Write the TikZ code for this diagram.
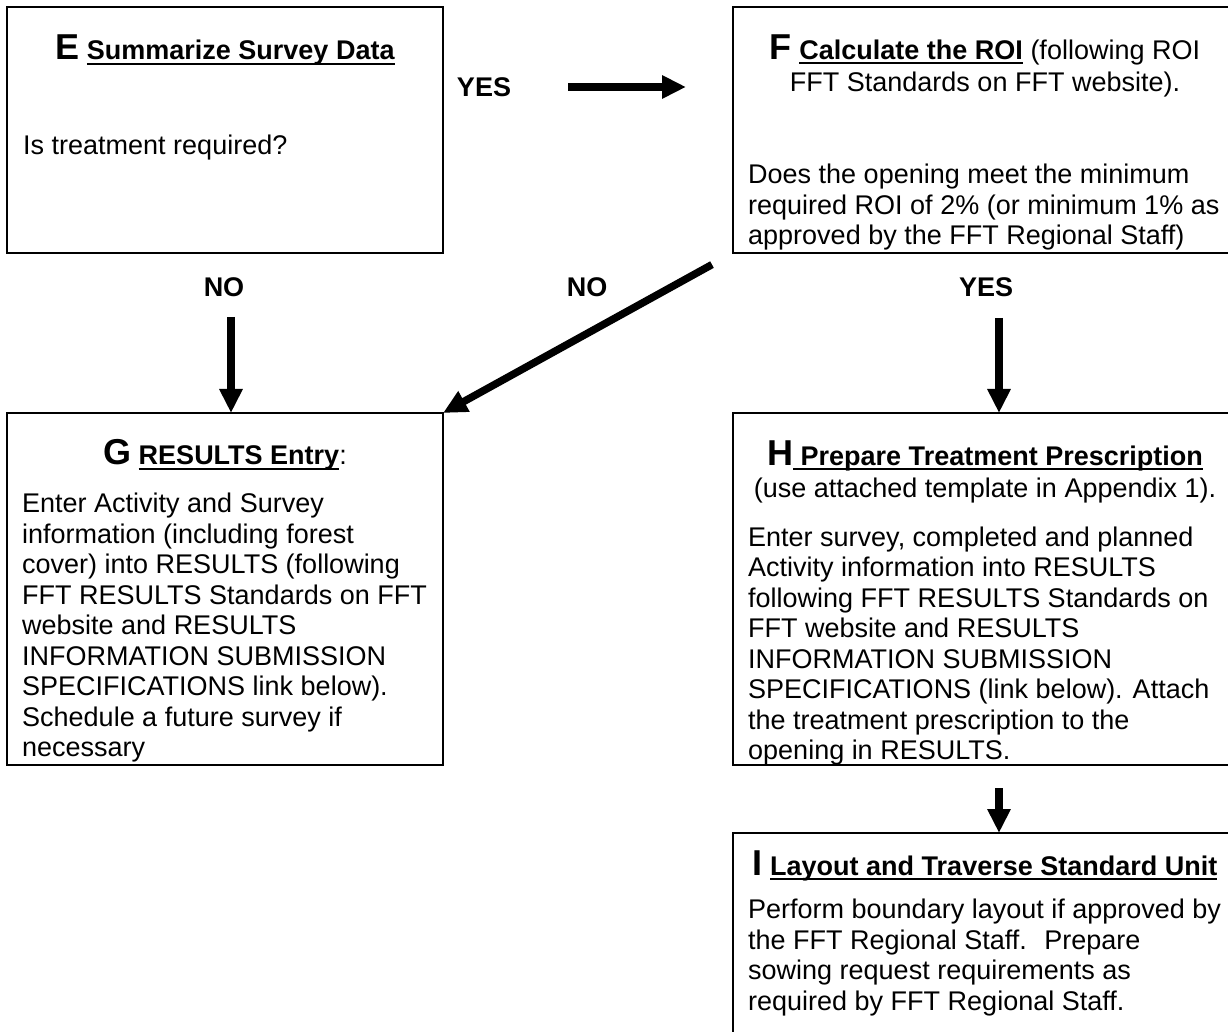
\documentclass[tikz,border=0pt]{standalone}
\usepackage{fontspec}
\setmainfont{Liberation Sans}
\usepackage{tikz}
\usetikzlibrary{positioning,arrows.meta}
\newcommand{\bodyfont}{\fontsize{27}{30.5}\selectfont}
\newcommand{\headfont}{\fontsize{27}{32.5}\selectfont}
\newcommand{\boxletter}[1]{{\fontsize{36}{36}\selectfont\bfseries #1}}
\newcommand{\uln}[1]{\setbox0\hbox{#1}\rlap{\vrule height -3pt depth 5pt width \wd0}\box0\relax}
\tikzstyle{stepbox}=[draw,rectangle,line width=2pt,inner sep=0pt,outer sep=0pt]
\tikzstyle{heading}=[font=\headfont,align=center,inner sep=0pt,anchor=base]
\tikzstyle{bodytext}=[font=\bodyfont,align=left,inner sep=0pt,anchor=base west]
\tikzstyle{answer}=[font=\bodyfont\bfseries,inner sep=0pt]
\tikzstyle{flow}=[line width=7.5pt,-{Triangle[length=24pt,width=22pt]}]

\begin{document}
\begin{tikzpicture}[x=1pt,y=1pt]
\useasboundingbox (0,0) rectangle (1228,1031);
\clip (0,0) rectangle (1228,1031);
% boxes
\node[stepbox,minimum width=436pt,minimum height=246pt] (E) at (225,901) {};
\node[stepbox,minimum width=504pt,minimum height=246pt,right=290pt of E] (F) {};
\node[stepbox,minimum width=436pt,minimum height=352pt,below=160pt of E] (G) {};
\node[stepbox,minimum width=504pt,minimum height=352pt,below=160pt of F] (H) {};
\node[stepbox,minimum width=504pt,minimum height=280pt,below=68pt of H] (I) {};
% box texts (multi-line texts sit on their last line)
\node[heading] (Etitle) at ([yshift=-53pt]E.north) {\boxletter{E} \uln{\bfseries Summarize Survey Data}};
\node[bodytext] (Ebody) at ([shift={(16pt,-148pt)}]E.north west) {Is treatment required?};
\node[heading] (Ftitle) at ([yshift=-85pt]F.north) {\boxletter{F} \uln{\bfseries Calculate the ROI} (following ROI\\FFT Standards on FFT website).};
\node[bodytext] (Fbody) at ([shift={(15pt,-238pt)}]F.north west) {Does the opening meet the minimum\\required ROI of 2\% (or minimum 1\% as\\approved by the FFT Regional Staff)};
\node[heading] (Gtitle) at ([yshift=-52pt]G.north) {\boxletter{G} \uln{\bfseries RESULTS Entry}:};
\node[bodytext] (Gbody) at ([shift={(15pt,-344pt)}]G.north west) {Enter Activity and Survey\\information (including forest\\cover) into RESULTS (following\\FFT RESULTS Standards on FFT\\website and RESULTS\\INFORMATION SUBMISSION\\SPECIFICATIONS link below).\\Schedule a future survey if\\necessary};
\node[heading] (Htitle) at ([yshift=-85pt]H.north) {\boxletter{H}\uln{\bfseries\ Prepare Treatment Prescription}\\(use attached template in Appendix 1).};
\node[bodytext] (Hbody) at ([shift={(15pt,-347pt)}]H.north west) {Enter survey, completed and planned\\Activity information into RESULTS\\following FFT RESULTS Standards on\\FFT website and RESULTS\\INFORMATION SUBMISSION\\SPECIFICATIONS (link below). Attach\\the treatment prescription to the\\opening in RESULTS.};
\node[heading] (Ititle) at ([yshift=-42pt]I.north) {\boxletter{I} \uln{\bfseries Layout and Traverse Standard Unit}};
\node[bodytext] (Ibody) at ([shift={(15pt,-177pt)}]I.north west) {Perform boundary layout if approved by\\the FFT Regional Staff.~ Prepare\\sowing request requirements as\\required by FFT Regional Staff.};
% answers
\node[answer] (yes1) at (484,944) {YES};
\node[answer] (no1) at (224,744) {NO};
\node[answer] (no2) at (587,744) {NO};
\node[answer] (yes2) at (986,744) {YES};
% connectors
\draw[flow,shorten <=57pt,shorten >=47pt] (yes1.east) -- (yes1.east -| F.west);
\draw[flow,shorten <=64pt] ([xshift=6pt]E.south) -- ([xshift=6pt]G.north);
\draw[flow,shorten <=24pt] (F.south west) -- (G.north east);
\draw[flow,shorten <=65pt] ([xshift=14pt]F.south) -- ([xshift=14pt]H.north);
\draw[flow,shorten <=23pt] ([xshift=14pt]H.south) -- ([xshift=14pt]I.north);
\end{tikzpicture}
\end{document}
